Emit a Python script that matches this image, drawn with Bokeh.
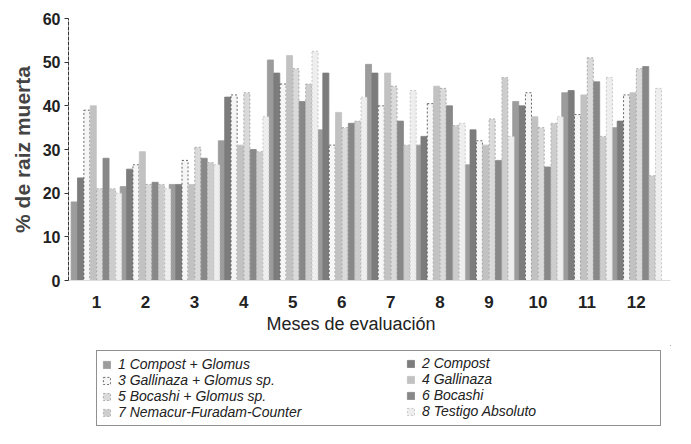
from bokeh.plotting import figure
from bokeh.models import ColumnDataSource, Legend, LegendItem, FixedTicker, Range1d, Title
from bokeh.layouts import column
from bokeh.embed import file_html
from bokeh.resources import INLINE

months = [1, 2, 3, 4, 5, 6, 7, 8, 9, 10, 11, 12]
month_labels = ["1", "2", "3", "4", "5", "6", "7", "8", "9", "10", "11", "12"]
treatments = ["1 Compost + Glomus", "2 Compost", "3 Gallinaza + Glomus sp.", "4 Gallinaza",
              "5 Bocashi + Glomus sp.", "6 Bocashi", "7 Nemacur-Furadam-Counter", "8 Testigo Absoluto"]

t1 = [18.0, 21.5, 22.0, 32.0, 50.5, 34.5, 49.5, 31.0, 26.5, 41.0, 43.0, 35.0]
t2 = [23.5, 25.5, 22.0, 42.0, 47.5, 47.5, 47.5, 33.0, 34.5, 40.0, 43.5, 36.5]
t3 = [39.0, 26.5, 27.5, 42.5, 45.0, 31.0, 40.0, 40.5, 32.0, 43.0, 38.0, 42.5]
t4 = [40.0, 29.5, 22.0, 31.0, 51.5, 38.5, 47.5, 44.5, 31.0, 37.5, 42.5, 43.0]
t5 = [21.0, 22.0, 30.5, 43.0, 48.5, 35.0, 44.5, 44.0, 37.0, 35.0, 51.0, 48.5]
t6 = [28.0, 22.5, 28.0, 30.0, 41.0, 36.0, 36.5, 40.0, 27.5, 26.0, 45.5, 49.0]
t7 = [21.0, 22.0, 27.0, 29.5, 45.0, 36.5, 31.0, 35.5, 46.5, 36.0, 33.0, 24.0]
t8 = [20.0, 21.0, 26.5, 37.5, 52.5, 42.0, 43.5, 36.0, 33.0, 37.5, 46.5, 44.0]

series = [t1, t2, t3, t4, t5, t6, t7, t8]
fills = ["#9c9c9c", "#7c7c7c", "#f6f6f6", "#c2c2c2", "#dadada", "#888888", "#cdcdcd", "#eeeeee"]
lines = [None, None, "#444444", None, "#999999", None, "#aaaaaa", "#bbbbbb"]
dashes = ["solid", "solid", "2 2", "solid", "2 2", "solid", "2 2", "2 2"]

BAR_W = 0.13
FONT = "Liberation Sans"

p = figure(width=675, height=345, output_backend="svg", toolbar_location=None,
           x_range=Range1d(0.43, 12.7), y_range=Range1d(0, 60),
           min_border_left=68, min_border_right=5, min_border_top=18, min_border_bottom=65)
p.outline_line_color = None
p.xgrid.visible = False
p.ygrid.visible = False

for i, vals in enumerate(series):
    src = ColumnDataSource(dict(x=[m + (i - 3.5) * BAR_W for m in months], top=vals))
    p.vbar(x="x", top="top", bottom=0, width=BAR_W * 0.95, source=src,
           fill_color=fills[i],
           line_color=lines[i] if lines[i] else fills[i],
           line_width=0.8, line_dash=dashes[i])

# axes
p.yaxis.ticker = FixedTicker(ticks=[0, 10, 20, 30, 40, 50, 60])
p.yaxis.axis_label = "% de raiz muerta"
p.yaxis.axis_label_text_font = FONT
p.yaxis.axis_label_text_font_style = "bold"
p.yaxis.axis_label_text_font_size = "21px"
p.yaxis.axis_label_standoff = 6
p.yaxis.major_label_text_font = FONT
p.yaxis.major_label_text_font_style = "bold"
p.yaxis.major_label_text_font_size = "16px"
p.yaxis.major_label_text_color = "#222222"
p.yaxis.axis_line_color = "#333333"
p.yaxis.axis_line_dash = "4 1"
p.yaxis.major_tick_line_color = "#333333"
p.yaxis.major_tick_out = 4
p.yaxis.major_tick_in = 0
p.yaxis.minor_tick_line_color = None
p.yaxis.major_label_standoff = 4

p.xaxis.ticker = FixedTicker(ticks=months)
p.xaxis.major_label_overrides = {m: l for m, l in zip(months, month_labels)}
p.xaxis.major_label_text_font = FONT
p.xaxis.major_label_text_font_style = "bold"
p.xaxis.major_label_text_font_size = "17px"
p.xaxis.major_label_text_color = "#222222"
p.xaxis.major_label_standoff = 9
p.xaxis.axis_line_color = "#dddddd"
p.xaxis.major_tick_line_color = None
p.xaxis.minor_tick_line_color = None

xtitle = Title(text="Meses de evaluación", align="left", offset=198,
               text_font=FONT, text_font_style="normal", text_font_size="18px",
               text_color="#222222", standoff=3)
p.add_layout(xtitle, "below")

# legend panel (separate figure below; frames are aligned with the main plot)
lf = figure(width=675, height=83, output_backend="svg", toolbar_location=None,
            x_range=Range1d(-2, -1), y_range=Range1d(-2, -1),
            min_border_left=68, min_border_right=5, min_border_top=0, min_border_bottom=0)
lf.axis.visible = False
lf.xgrid.visible = False
lf.ygrid.visible = False
lf.outline_line_color = None

proxies = []
for i in range(8):
    src = ColumnDataSource(dict(x=[months[0]], top=[series[i][0]]))
    r = lf.vbar(x="x", top="top", bottom=0, width=BAR_W, source=src,
                fill_color=fills[i],
                line_color=lines[i] if lines[i] else fills[i],
                line_width=0.8, line_dash=dashes[i])
    proxies.append(r)

common = dict(glyph_width=9, glyph_height=9, label_standoff=7, padding=5, spacing=0,
              label_height=15, label_text_font=FONT,
              label_text_font_style="italic", label_text_font_size="14px",
              label_text_color="#222222", margin=0)
col1 = [0, 2, 4, 6]
col2 = [1, 3, 5, 7]
legA = Legend(items=[LegendItem(label=treatments[i], renderers=[proxies[i]]) for i in col1],
              location=(28, 2), border_line_color="#222222", border_line_width=1,
              label_width=537, background_fill_color="white", **common)
legB = Legend(items=[LegendItem(label=treatments[i], renderers=[proxies[i]]) for i in col2],
              location=(338, 9), border_line_color=None, background_fill_alpha=0,
              **common)
lf.add_layout(legA, "center")
lf.add_layout(legB, "center")

layout = column(p, lf, spacing=0)
open("out.html", "w").write(file_html(layout, INLINE))
